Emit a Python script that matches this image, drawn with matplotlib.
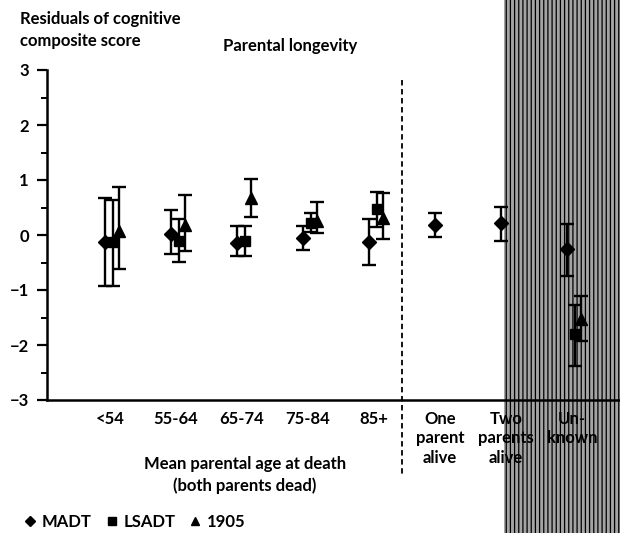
import numpy as np
import matplotlib
matplotlib.use("Agg")
import matplotlib.pyplot as plt
from matplotlib.patches import Rectangle

plt.rcParams['font.family'] = ['Lato', 'DejaVu Sans']
plt.rcParams['hatch.linewidth'] = 0.9

# categories along the x axis
categories = ['<54', '55-64', '65-74', '75-84', '85+',
              'One\nparent\nalive', 'Two\nparents\nalive', 'Un-\nknown']

# MADT (diamond): estimate, lower, upper
madt_x = [0, 1, 2, 3, 4, 5, 6, 7]
madt_y = [-0.12, 0.02, -0.14, -0.06, -0.12, 0.18, 0.22, -0.25]
madt_lo = [-0.93, -0.35, -0.39, -0.27, -0.55, -0.04, -0.10, -0.74]
madt_hi = [0.67, 0.45, 0.16, 0.16, 0.30, 0.40, 0.51, 0.20]

# LSADT (square)
lsadt_x = [0, 1, 2, 3, 4, 7]
lsadt_y = [-0.12, -0.10, -0.10, 0.21, 0.48, -1.80]
lsadt_lo = [-0.92, -0.49, -0.39, 0.06, 0.15, -2.38]
lsadt_hi = [0.64, 0.30, 0.16, 0.40, 0.78, -1.27]

# 1905 cohort (triangle)
c1905_x = [0, 1, 2, 3, 4, 7]
c1905_y = [0.08, 0.18, 0.68, 0.25, 0.31, -1.53]
c1905_lo = [-0.62, -0.29, 0.33, 0.04, -0.07, -1.92]
c1905_hi = [0.87, 0.73, 1.02, 0.60, 0.76, -1.10]

series = [
    ('MADT', madt_x, madt_y, madt_lo, madt_hi, 'D', 7.5, -0.08),
    ('LSADT', lsadt_x, lsadt_y, lsadt_lo, lsadt_hi, 's', 7.5, 0.05),
    ('1905', c1905_x, c1905_y, c1905_lo, c1905_hi, '^', 8.5, 0.14),
]

fig = plt.figure(figsize=(6.2, 5.33), dpi=100)
ax = fig.add_axes([47 / 620, 1 - 400 / 533, 1 - 47 / 620, 330 / 533])
ax.set_facecolor('none')

# striped scan artefact on the right
fig.patches.append(Rectangle((504 / 620, 0), 1 - 504 / 620, 1, transform=fig.transFigure,
                             facecolor='#a4a4a4', edgecolor='black', hatch='||||',
                             linewidth=0, zorder=-5))

handles = []
for name, xs, ys, lo, hi, mk, ms, off in series:
    xs = np.array(xs) + off
    ys = np.array(ys)
    err = [ys - np.array(lo), np.array(hi) - ys]
    ax.errorbar(xs, ys, yerr=err, fmt='none', ecolor='black', elinewidth=1.7,
                capsize=5, capthick=1.7, zorder=3)
    h, = ax.plot(xs, ys, linestyle='none', marker=mk, markersize=ms,
                 color='black', zorder=4, label=name)
    handles.append(h)

ax.set_xlim(-0.955, 7.73)
ax.set_ylim(-3, 3)

for s in ['top', 'right']:
    ax.spines[s].set_visible(False)
ax.spines['left'].set_linewidth(1.8)
ax.spines['bottom'].set_linewidth(1.8)

ax.set_yticks([-3, -2, -1, 0, 1, 2, 3])
ax.set_yticklabels(['\u22123', '\u22122', '\u22121', '0', '1', '2', '3'],
                   fontsize=12, fontweight='bold')
ax.set_yticks(np.arange(-2.5, 3, 1.0), minor=True)
ax.tick_params(axis='y', which='major', length=7, width=1.6, direction='out', pad=6)
ax.tick_params(axis='y', which='minor', length=4, width=1.4, direction='out')

ax.set_xticks(range(len(categories)))
ax.set_xticklabels(categories, fontsize=12, fontweight='bold', linespacing=1.25,
                   va='top')
ax.tick_params(axis='x', length=0, pad=8)

# dashed divider
ax.plot([4.42, 4.42], [2.82, -4.36], color='black', linestyle=(0, (3, 2)),
        linewidth=1.3, clip_on=False, zorder=2)

fig.text(20 / 620, 1 - 11 / 533, 'Residuals of cognitive\ncomposite score',
         ha='left', va='top', fontsize=12, fontweight='bold', linespacing=1.45)
fig.text(290 / 620, 1 - 46 / 533, 'Parental longevity', ha='center', va='center',
         fontsize=12, fontweight='bold')
fig.text(245 / 620, 1 - 475 / 533, 'Mean parental age at death\n(both parents dead)',
         ha='center', va='center', fontsize=12, fontweight='bold', linespacing=1.45)

fig.legend(handles=handles, loc='center left', bbox_to_anchor=(10 / 620, 1 - 522 / 533),
           ncol=3, frameon=False, handlelength=0.6, handletextpad=0.4,
           columnspacing=0.9, markerscale=0.7, prop={'weight': 'bold', 'size': 12})

fig.savefig('out.png', dpi=100)
